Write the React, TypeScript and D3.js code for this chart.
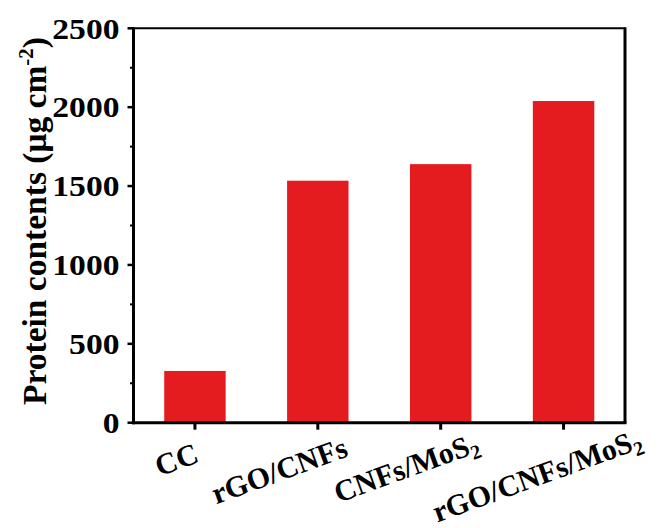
import React from "react";
import * as d3 from "d3";

const categories = ["CC", "rGO/CNFs", "CNFs/MoS2", "rGO/CNFs/MoS2"];
const values = [328, 1534, 1639, 2039];
const yTicks = [0, 500, 1000, 1500, 2000, 2500];
const yMinorTicks = [250, 750, 1250, 1750, 2250];

const W = 659;
const H = 528;
const left = 133.5;
const right = 625;
const top = 28.3;
const bottom = 422.7;
const FONT = "'Liberation Serif', 'Times New Roman', serif";
const BAR = "#e41b1f";

// label placement nudges (baseline-centre relative to tick)
const labelDx = [-15, -35, -31, -23];
const labelY = [469, 480, 477, 485];

function Label({ text }: { text: string }) {
  if (text.endsWith("MoS2")) {
    return (
      <>
        {text.slice(0, -1)}
        <tspan fontSize={20} dy={6}>2</tspan>
      </>
    );
  }
  return <>{text}</>;
}

export default function App() {
  const x = d3.scaleBand<string>().domain(categories).range([left, right]).paddingInner(0.5).paddingOuter(0.25);
  const y = d3.scaleLinear().domain([0, 2500]).range([bottom, top]);
  const xc = (c: string) => (x(c) as number) + x.bandwidth() / 2;

  return (
    <svg width={W} height={H} style={{ position: "absolute", left: 0, top: 0, background: "#fff" }}>
      {categories.map((c, i) => (
        <rect key={c} x={x(c)} y={y(values[i])} width={x.bandwidth()} height={bottom - y(values[i])} fill={BAR} />
      ))}
      {/* frame */}
      <line x1={left} x2={right} y1={top} y2={top} stroke="#000" strokeWidth={2} />
      <line x1={right} x2={right} y1={top - 1} y2={bottom} stroke="#000" strokeWidth={3} />
      <line x1={left} x2={left} y1={top - 1} y2={bottom + 1.5} stroke="#000" strokeWidth={3} />
      <line x1={left - 1.5} x2={right + 1.5} y1={bottom} y2={bottom} stroke="#000" strokeWidth={3} />
      {/* y ticks */}
      {yTicks.map((t) => (
        <g key={t}>
          <line x1={left - 6} x2={left} y1={y(t)} y2={y(t)} stroke="#000" strokeWidth={2.5} />
          <text
            transform={`translate(${left - 14},${y(t)}) scale(1.12,1)`}
            dy="0.34em"
            textAnchor="end"
            fontFamily={FONT}
            fontWeight="bold"
            fontSize={30}
          >
            {t}
          </text>
        </g>
      ))}
      {yMinorTicks.map((t) => (
        <line key={t} x1={left - 3.5} x2={left} y1={y(t)} y2={y(t)} stroke="#000" strokeWidth={2} />
      ))}
      {/* x ticks */}
      {categories.map((c, i) => (
        <g key={c}>
          <line x1={xc(c)} x2={xc(c)} y1={bottom} y2={bottom + 7} stroke="#000" strokeWidth={3} />
          <text
            transform={`translate(${xc(c) + labelDx[i]},${labelY[i]}) rotate(-20)`}
            textAnchor="middle"
            fontFamily={FONT}
            fontWeight="bold"
            fontSize={30}
          >
            <Label text={c} />
          </text>
        </g>
      ))}
      {/* y title */}
      <text
        transform={`translate(46,221) rotate(-90)`}
        textAnchor="middle"
        fontFamily={FONT}
        fontWeight="bold"
        fontSize={33.5}
      >
        Protein contents (μg cm
        <tspan fontSize={21} dy={-13}>-2</tspan>
        <tspan dy={13}>)</tspan>
      </text>
    </svg>
  );
}
